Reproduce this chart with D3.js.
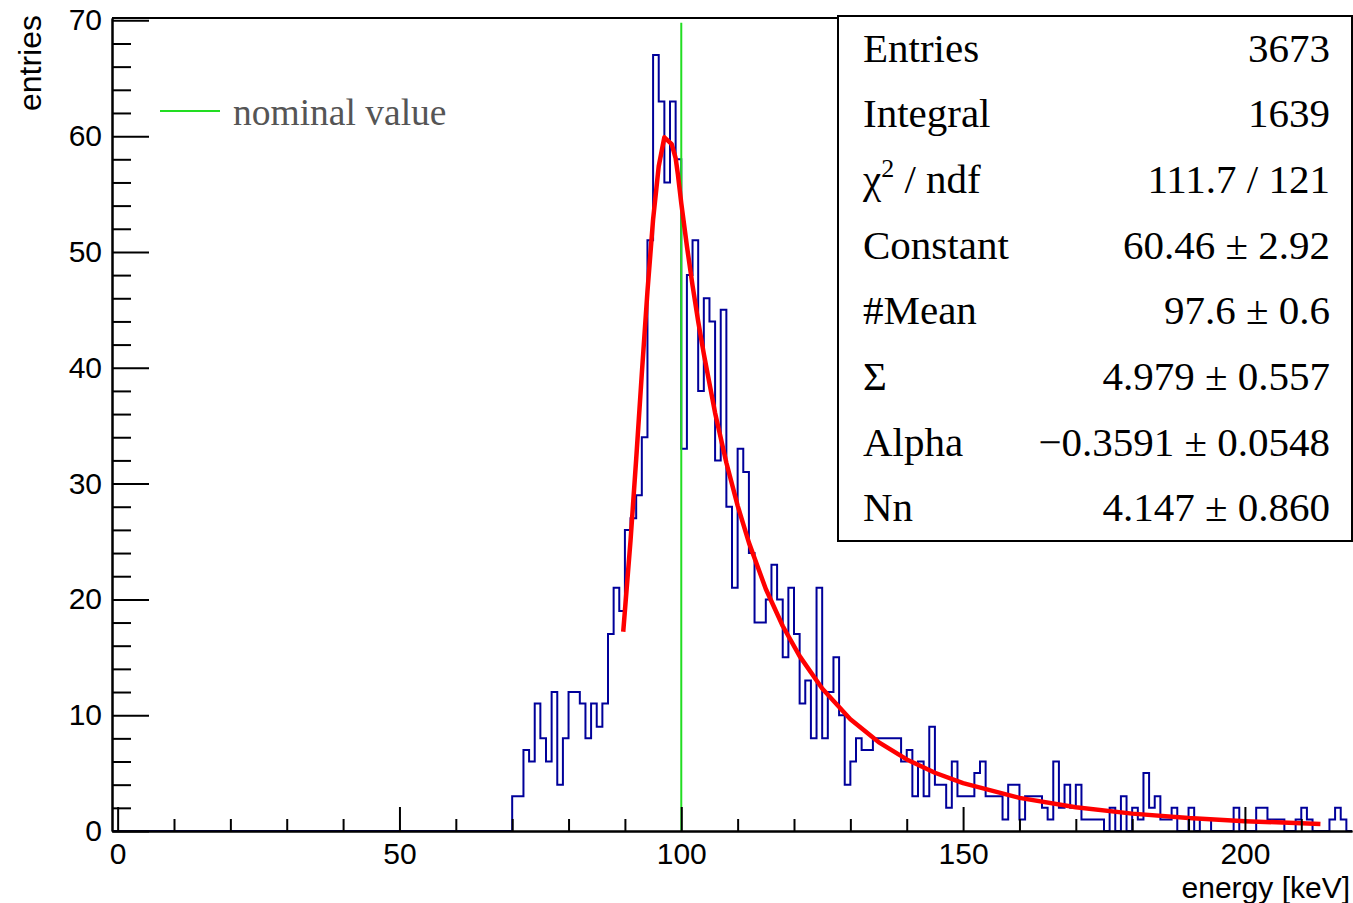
<!DOCTYPE html>
<html>
<head>
<meta charset="utf-8">
<script src="https://cdn.jsdelivr.net/npm/d3@7"></script>
<style>
  body { margin: 0; background: #fff; }
  svg { display: block; }
</style>
</head>
<body>
<svg width="1353" height="903"></svg>
<script>
// histogram: 1 keV bins, counts start at bin 70
const firstBin = 70;
const counts = [
  3, 3, 7, 6, 11, 8, 6, 12, 4, 8,          // 70-79
  12, 12, 11, 8, 11, 9, 11, 17, 21, 19,    // 80-89
  26, 27, 29, 34, 51, 67, 63, 56, 63, 58,  // 90-99
  33, 48, 51, 38, 46, 44, 32, 45, 28, 21,  // 100-109
  33, 31, 24, 18, 18, 20, 23, 20, 15, 21,  // 110-119
  17, 11, 13, 8, 21, 8, 12, 15, 10, 4,     // 120-129
  6, 8, 7, 7, 8, 8, 8, 8, 8, 6,            // 130-139
  7, 3, 6, 3, 9, 4, 4, 2, 6, 3,            // 140-149
  3, 3, 5, 6, 3, 3, 3, 1, 4, 4,            // 150-159
  1, 3, 3, 3, 2, 1, 6, 2, 4, 2,            // 160-169
  4, 1, 1, 1, 1, 0, 2, 0, 3, 0,            // 170-179
  2, 1, 5, 2, 3, 1, 1, 2, 0, 0,            // 180-189
  2, 0, 1, 1, 0, 0, 0, 0, 2, 0,            // 190-199
  0, 0, 2, 2, 1, 1, 1, 0, 0, 1,            // 200-209
  2, 1, 0, 0, 0, 1, 2, 1, 0                // 210-218
];

// fitted curve, points
const fitX = [89.7, 91, 92, 93, 94, 95, 96, 97, 98.3, 99, 99.4, 100, 101, 102, 103, 104,
  106, 108, 110, 112, 115, 118, 121, 125, 130, 135, 140, 145, 150, 160, 170, 180, 190, 200, 213.4];
const fitY = [17.2, 25.1, 32.1, 39.5, 46.6, 52.8, 57.4, 59.9, 59.3, 58.1, 56.7, 54.2, 50.5, 47.1, 44.0, 41.2,
  36.1, 31.8, 28.1, 24.9, 20.9, 17.7, 15.1, 12.3, 9.65, 7.68, 6.18, 5.03, 4.13, 2.86, 2.05, 1.50, 1.12, 0.85, 0.61];

const nominal = 100;

const statNames = ["Entries", "Integral", "χ2 / ndf", "Constant", "#Mean", "Σ", "Alpha", "Nn"];
const statValues = ["3673", "1639", "111.7 / 121", "60.46 ± 2.92", "97.6 ± 0.6",
  "4.979 ± 0.557", "\u22120.3591 ± 0.0548", "4.147 ± 0.860"];

const xTicks = [0, 50, 100, 150, 200];
const yTicks = [0, 10, 20, 30, 40, 50, 60, 70];

// frame
const frame = {left: 112, right: 1352, top: 18, bottom: 831};
const sans = "'Liberation Sans', Arial, sans-serif";
const serif = "'Liberation Serif', 'Times New Roman', serif";

const x = d3.scaleLinear().domain([-1, 219]).range([frame.left, frame.right]);
const y = d3.scaleLinear().domain([0, 70.2]).range([frame.bottom, frame.top]);

const svg = d3.select("svg");

// histogram as step line, zero outside filled bins
const bins = [];
for (let b = -1; b < 219; b++) {
  const i = b - firstBin;
  bins.push([b, (i >= 0 && i < counts.length) ? counts[i] : 0]);
}
bins.push([219, 0]);

svg.append("path")
  .datum(bins)
  .attr("fill", "none")
  .attr("stroke", "#00009a")
  .attr("stroke-width", 2)
  .attr("d", d3.line().x(d => x(d[0])).y(d => y(d[1])).curve(d3.curveStepAfter));

// nominal value line
svg.append("line")
  .attr("x1", x(nominal)).attr("x2", x(nominal))
  .attr("y1", y(0)).attr("y2", y(69.8))
  .attr("stroke", "#22dd22")
  .attr("stroke-width", 2);

// fit curve
svg.append("path")
  .datum(d3.zip(fitX, fitY))
  .attr("fill", "none")
  .attr("stroke", "#ff0000")
  .attr("stroke-width", 4.5)
  .attr("stroke-linejoin", "round")
  .attr("d", d3.line().x(d => x(d[0])).y(d => y(d[1])));

// axes
svg.append("g")
  .attr("transform", `translate(${frame.left},0)`)
  .call(d3.axisLeft(y).tickValues(yTicks).tickSizeInner(-37).tickSizeOuter(0).tickPadding(10));
svg.append("g")
  .attr("transform", `translate(${frame.left},0)`)
  .call(d3.axisLeft(y).tickValues(d3.range(0, 71, 2).filter(v => v % 10 !== 0))
    .tickSizeInner(-19).tickSizeOuter(0).tickFormat(""));
svg.append("g")
  .attr("transform", `translate(0,${frame.bottom})`)
  .call(d3.axisBottom(x).tickValues(xTicks).tickSizeInner(-24).tickSizeOuter(0).tickPadding(12));
svg.append("g")
  .attr("transform", `translate(0,${frame.bottom})`)
  .call(d3.axisBottom(x).tickValues(d3.range(10, 219, 10).filter(v => v % 50 !== 0))
    .tickSizeInner(-12).tickSizeOuter(0).tickFormat(""));

svg.selectAll(".domain, .tick line").attr("stroke", "#000").attr("stroke-width", 2);
svg.selectAll(".tick text").attr("font-family", sans).attr("font-size", 30).attr("fill", "#000");

// top frame line
svg.append("line")
  .attr("x1", frame.left).attr("x2", frame.right)
  .attr("y1", frame.top).attr("y2", frame.top)
  .attr("stroke", "#000").attr("stroke-width", 2);

// axis titles
svg.append("text")
  .attr("transform", `translate(41,${frame.top - 3}) rotate(-90)`)
  .attr("text-anchor", "end")
  .attr("font-family", sans).attr("font-size", 32)
  .text("entries");
svg.append("text")
  .attr("x", 1350).attr("y", 898)
  .attr("text-anchor", "end")
  .attr("font-family", sans).attr("font-size", 30)
  .text("energy [keV]");

// legend
svg.append("line")
  .attr("x1", 160).attr("x2", 220).attr("y1", 111).attr("y2", 111)
  .attr("stroke", "#22dd22").attr("stroke-width", 2);
svg.append("text")
  .attr("x", 233).attr("y", 125)
  .attr("font-family", serif).attr("font-size", 37.5)
  .attr("fill", "#555")
  .text("nominal value");

// stats box
const box = {x: 838, y: 16, w: 514, h: 525};
svg.append("rect")
  .attr("x", box.x).attr("y", box.y).attr("width", box.w).attr("height", box.h)
  .attr("fill", "#fff").attr("stroke", "#000").attr("stroke-width", 2);

const rowH = box.h / statNames.length;
statNames.forEach((name, i) => {
  const cy = box.y + rowH * (i + 0.5) + 13;
  const t = svg.append("text")
    .attr("x", 863).attr("y", cy)
    .attr("font-family", serif).attr("font-size", 41);
  if (name.startsWith("χ2")) {
    t.append("tspan").text("χ");
    t.append("tspan").attr("font-size", 26).attr("dy", -16).text("2");
    t.append("tspan").attr("dy", 16).text(" / ndf");
  } else {
    t.text(name);
  }
  svg.append("text")
    .attr("x", 1330).attr("y", cy)
    .attr("text-anchor", "end")
    .attr("font-family", serif).attr("font-size", 41)
    .text(statValues[i]);
});
</script>
</body>
</html>
